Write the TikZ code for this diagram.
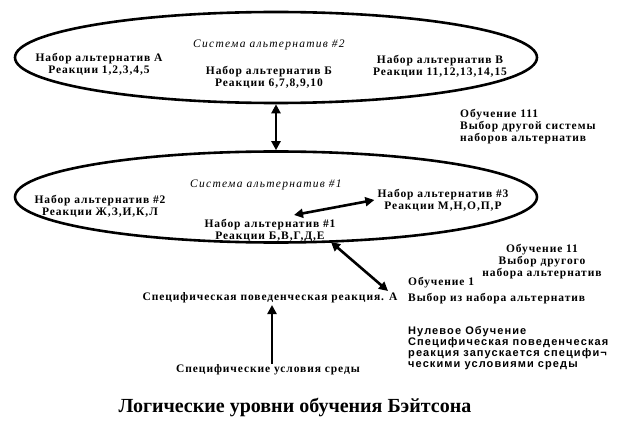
\documentclass[tikz,border=0pt]{standalone}
\usepackage{fontspec}
\setmainfont{Liberation Serif}
\newfontfamily\spacedfont[LetterSpace=8]{Liberation Serif}
\newfontfamily\headfont[LetterSpace=11]{Liberation Serif}
\newfontfamily\zerofont[LetterSpace=10]{Liberation Sans}
\usetikzlibrary{shapes.geometric,arrows.meta,positioning}

\begin{document}
\begin{tikzpicture}[x=1pt,y=-1pt,
font=\spacedfont\bfseries\fontsize{11.5}{12}\selectfont,
sys/.style={draw, ellipse, line width=2.6pt, minimum width=522pt, minimum height=91pt, inner sep=0pt},
lbl/.style={align=center, inner sep=1pt},
note/.style={align=left, anchor=west, inner sep=1pt},
head/.style={inner sep=1pt, font=\headfont\itshape\mdseries\fontsize{11.5}{12}\selectfont},
arr/.style={line width=2.6pt, {Triangle[length=9pt,width=9pt]}-{Triangle[length=9pt,width=9pt]}},
uparr/.style={line width=2.6pt, -{Triangle[length=9pt,width=9pt]}}]
\useasboundingbox (0,0) rectangle (635,425);

% system 2
\node[sys] (sys2) at (276,57.5) {};
\node[head] (head2) at (269,45) {Система альтернатив \#2};
\node[lbl] (setA) at (99,64) {Набор альтернатив А\\Реакции 1,2,3,4,5};
\node[lbl] (setB) at (269,77) {Набор альтернатив Б\\Реакции 6,7,8,9,10};
\node[lbl] (setV) at (440,66) {Набор альтернатив В\\Реакции 11,12,13,14,15};

% system 1
\node[sys] (sys1) at (276,197) {};
\node[head] (head1) at (266,185) {Система альтернатив \#1};
\node[lbl] (set2) at (100,206) {Набор альтернатив \#2\\Реакции Ж,З,И,К,Л};
\node[lbl] (set3) at (443,200) {Набор альтернатив \#3\\Реакции М,Н,О,П,Р};
\node[lbl] (set1) at (270,231) {Набор альтернатив \#1\\Реакции Б,В,Г,Д,Е};

% levels
\node[note] (learn3) at (459,127) {Обучение 111\\Выбор другой системы\\наборов альтернатив};
\node[lbl] (learn2) at (542,262) {Обучение 11\\Выбор другого\\набора альтернатив};
\node[note] (learn1) at (407,291) {Обучение 1\\[4pt]Выбор из набора альтернатив};
\node[lbl] (react) at (270,298) {Специфическая поведенческая реакция. А};
\node[lbl] (env) at (268,370) {Специфические условия среды};
\node[note, font=\zerofont\bfseries\fontsize{11}{11}\selectfont] (zero) at (407,348)
  {Нулевое Обучение\\Специфическая поведенческая\\реакция запускается специфи¬\\ческими условиями среды};
\node[lbl, font=\bfseries\fontsize{20}{22}\selectfont] (title) at (295,407) {Логические уровни обучения Бэйтсона};

% arrows
\coordinate (a1) at (294,215);
\coordinate (d1) at (331,242);
\coordinate (d2) at (388,291);
\coordinate (up) at (272,305);
\draw[arr] (sys2.south) -- (sys1.north);
\draw[arr] (a1) -- ([xshift=-2pt]set3.west);
\draw[arr] (d1) -- (d2);
\draw[uparr] (up |- env.north) -- (up);
\end{tikzpicture}
\end{document}
